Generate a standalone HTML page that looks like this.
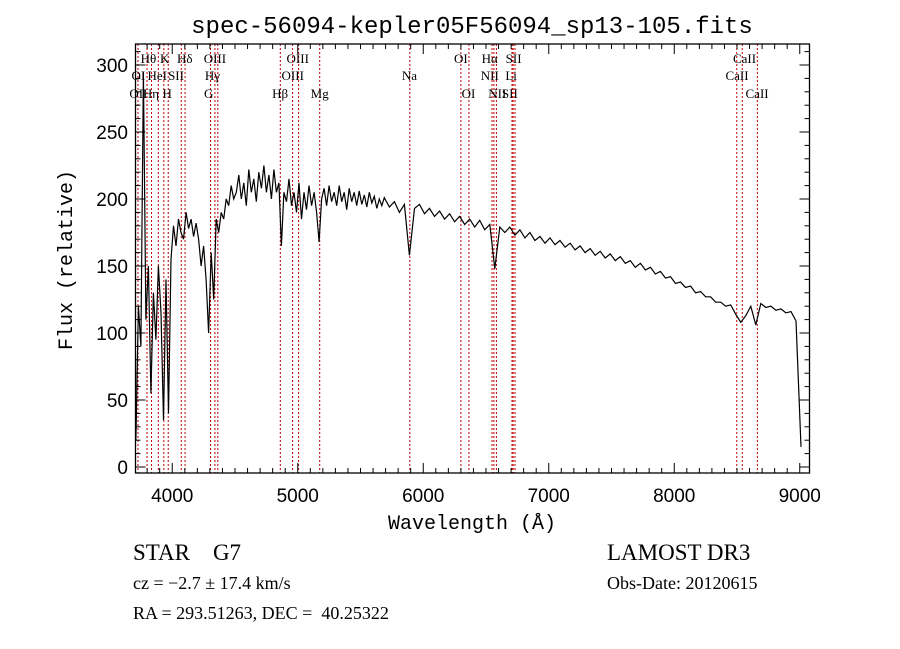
<!DOCTYPE html>
<html><head><meta charset="utf-8">
<style>
html,body{margin:0;padding:0;background:#fff;}
svg{display:block;}
text{fill:#000;white-space:pre;}
</style></head>
<body>
<svg id="chart" width="900" height="649" viewBox="0 0 900 649" xmlns="http://www.w3.org/2000/svg" xml:space="preserve">
<rect width="900" height="649" fill="#fff"/>
<text x="472" y="33" text-anchor="middle" font-family="Liberation Mono, monospace" font-size="24">spec-56094-kepler05F56094_sp13-105.fits</text>
<g id="lines"></g>
<g id="axes"></g>
<path id="spec" fill="none" stroke="#000" stroke-width="1.2"/>
<text transform="translate(72,260) rotate(-90)" text-anchor="middle" font-family="Liberation Mono, monospace" font-size="20">Flux (relative)</text>
<text x="472" y="529" text-anchor="middle" font-family="Liberation Mono, monospace" font-size="20">Wavelength (Å)</text>
<text x="133" y="560" font-family="Liberation Serif, serif" font-size="23">STAR    G7</text>
<text x="133" y="589" font-family="Liberation Serif, serif" font-size="18">cz = −2.7 ± 17.4 km/s</text>
<text x="133" y="619" font-family="Liberation Serif, serif" font-size="18">RA = 293.51263, DEC =  40.25322</text>
<text x="607" y="560" font-family="Liberation Serif, serif" font-size="23">LAMOST DR3</text>
<text x="607" y="589" font-family="Liberation Serif, serif" font-size="18">Obs-Date: 20120615</text>
</svg>
<script>
const fluxBlue = [20,120,90,295,110,150,55,130,95,150,115,35,140,40,155,180,165,185,175,170,190,178,185,172,182,170,150,165,140,100,160,125,185,175,190,185,200,195,210,200];
const fluxGreen = [205,218,200,212,195,222,205,215,198,220,
208,225,205,218,200,222,205,212,165,205,
198,215,195,205,190,212,185,205,192,210,
195,205,190,168,200,208,195,210,198,205,
195,210,198,205,192,208,198,205,195,206,
196,203,194,205,197,202,193,200,195,201];
const fluxRed = [194,198,190,196,158,193,196,189,193,187,
191,185,189,183,187,181,185,179,184,177,
181,148,179,175,179,173,177,171,175,169,
172,167,171,166,169,164,167,162,165,160,
163,158,161,156,159,154,157,152,154,149,
152,147,149,144,146,141,142,137,138,134,
135,130,131,127,127,123,123,120,121,114,
108,113,120,106,122,119,120,117,118,115,
116,109,15];
const lineWaves = [3727,3799,3835,3889,3933,3968,4072,4102,4305,4340,4363,4861,4959,5007,5175,5893,6300,6364,6548,6563,6583,6707,6716,6731,8498,8542,8662];
const labelText = ["Hθ","K","Hδ","OIII","OIII","OI","Hα","SII","CaII","OI","HeI","SII","Hγ","OIII","Na","NII","Li","CaII","OII","Hη","H","G","Hβ","Mg","OI","NII","SII","CaII"];
const labelWave = [3810,3940,4100,4340,5000,6300,6530,6720,8560,3730,3880,4030,4320,4960,5890,6530,6700,8500,3730,3830,3960,4290,4860,5175,6360,6590,6690,8660];
const labelRow = [0,0,0,0,0,0,0,0,0,1,1,1,1,1,1,1,1,1,2,2,2,2,2,2,2,2,2,2];
const xTicks = [4000,5000,6000,7000,8000,9000];
const yTicks = [0,50,100,150,200,250,300];

const L=135.5,R=809.5,T=44,B=473;
const x = w => 134.6 + (w-3700)*0.1255;
const y = f => 467 - f*1.34;
const NS="http://www.w3.org/2000/svg";
function mk(tag,attrs,parent){const e=document.createElementNS(NS,tag);for(const k in attrs)e.setAttribute(k,attrs[k]);parent.appendChild(e);return e;}
const ax=document.getElementById('axes');
const lg=document.getElementById('lines');

lineWaves.forEach(w=>{
  const l=mk('line',{x1:x(w),x2:x(w),y1:T,y2:B,stroke:'#c00000','stroke-width':1,'stroke-dasharray':'2,2'},lg);
  
  
});
const rowY=[63,80,98];
labelText.forEach((t,i)=>{
  const e=mk('text',{x:x(labelWave[i]),y:rowY[labelRow[i]],'text-anchor':'middle','font-family':'Liberation Serif, serif','font-size':13},lg);
  e.textContent=t;
  
  
});

const frame=mk('rect',{x:L,y:T,width:R-L,height:B-T,fill:'none',stroke:'#000','stroke-width':1.3},ax);


for(let w=3800;w<=9000;w+=100){
  const len = w%1000===0?10:5;
  mk('line',{x1:x(w),x2:x(w),y1:B,y2:B-len,stroke:'#000'},ax);
  mk('line',{x1:x(w),x2:x(w),y1:T,y2:T+len,stroke:'#000'},ax);
}
for(let f=0;f<=310;f+=10){
  const len = f%50===0?10:5;
  mk('line',{x1:L,x2:L+len,y1:y(f),y2:y(f),stroke:'#000'},ax);
  mk('line',{x1:R,x2:R-len,y1:y(f),y2:y(f),stroke:'#000'},ax);
}
xTicks.forEach(w=>{
  const e=mk('text',{x:x(w),y:502,'text-anchor':'middle','font-family':'Liberation Sans, sans-serif','font-size':19},ax);
  e.textContent=w;
  
  
});
yTicks.forEach(f=>{
  const e=mk('text',{x:128,y:y(f)+7,'text-anchor':'end','font-family':'Liberation Sans, sans-serif','font-size':19},ax);
  e.textContent=f;
  
  
});

let d='', n=0;
function add(arr,start,step){arr.forEach((f,i)=>{const w=start+step*i;d+=(n++?'L':'M')+x(w).toFixed(1)+','+y(f).toFixed(1);});}
add(fluxBlue,3710,20);
add(fluxGreen,4510,20);
add(fluxRed,5730,40);
document.getElementById('spec').setAttribute('d',d);
</script>
</body></html>
